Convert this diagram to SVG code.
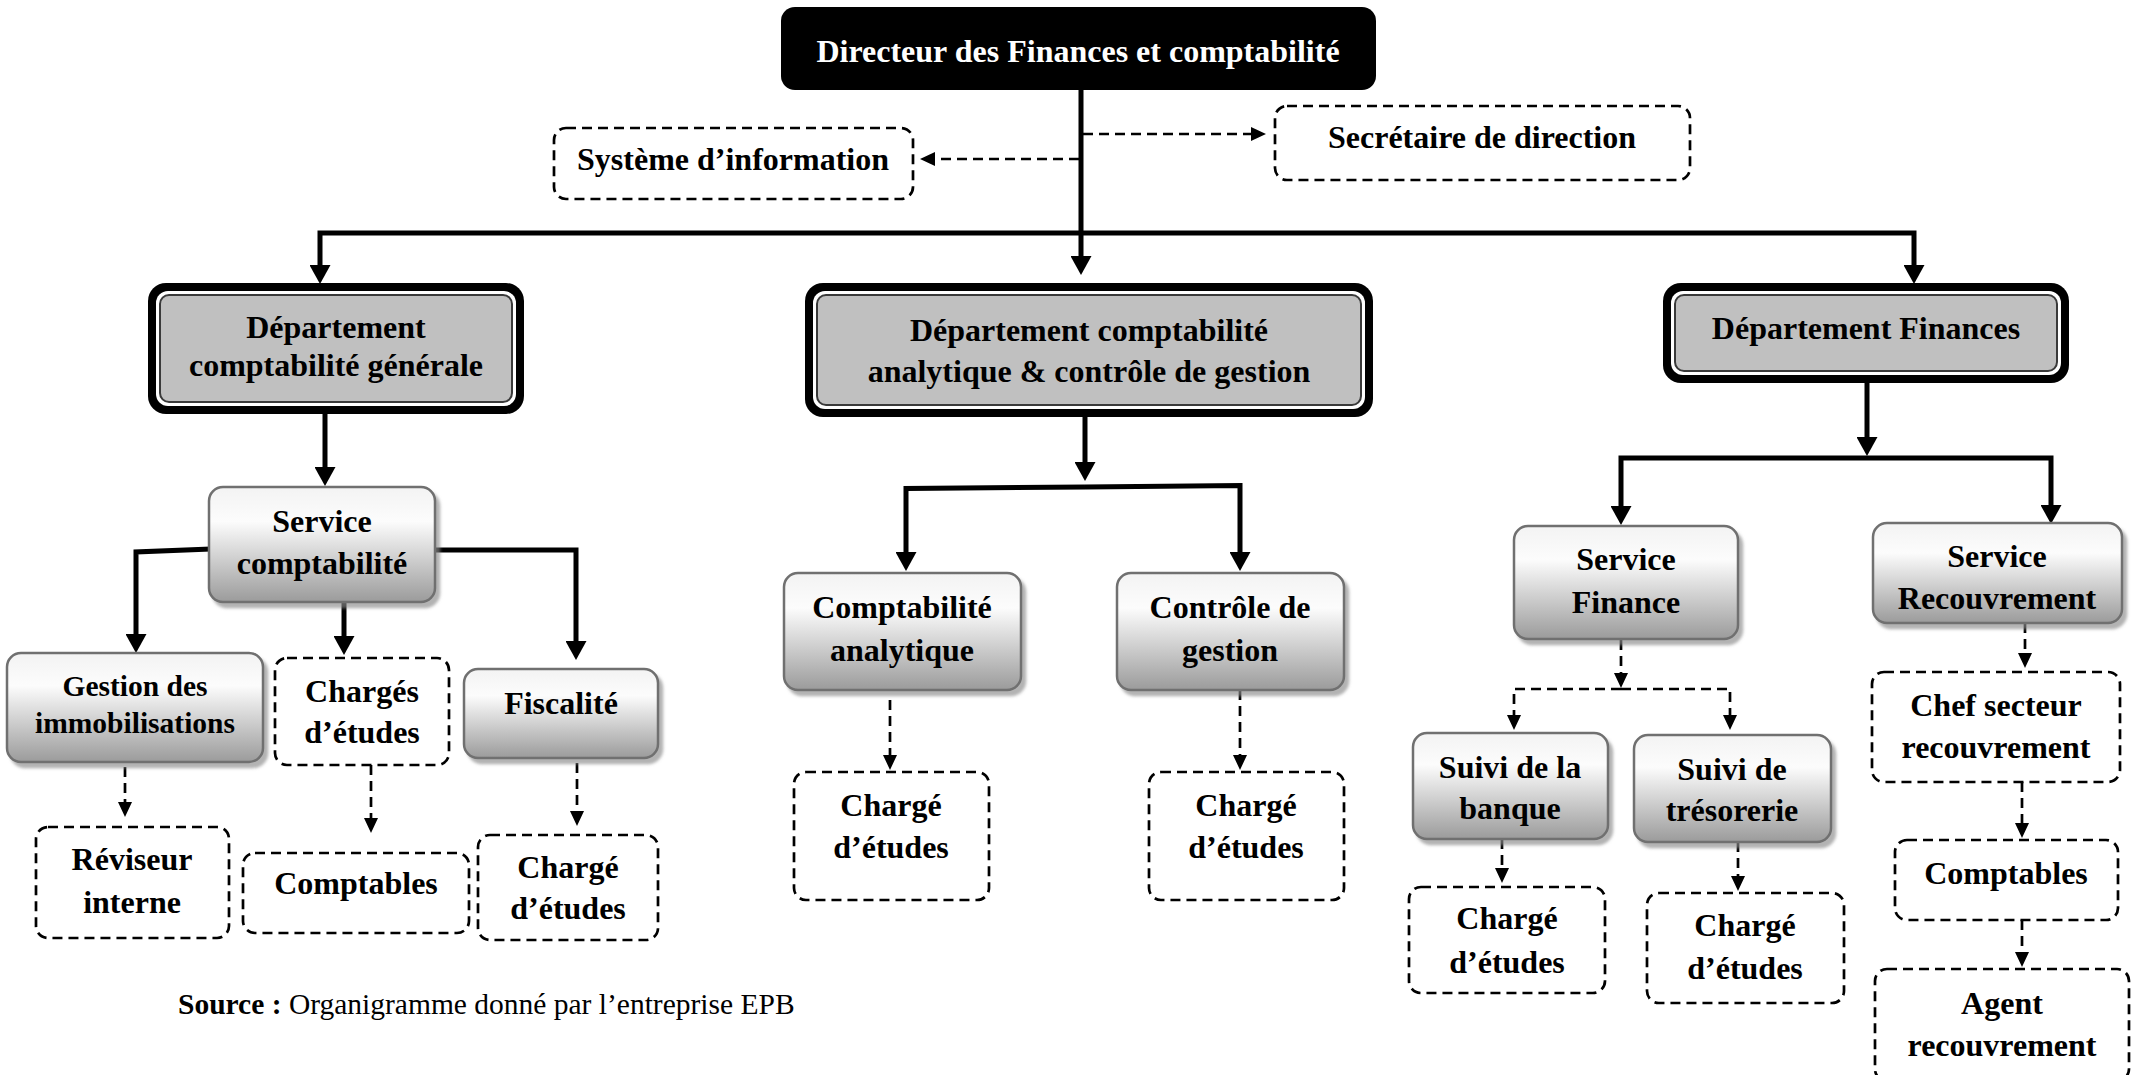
<svg xmlns="http://www.w3.org/2000/svg" width="2138" height="1075" viewBox="0 0 2138 1075">
  <defs>
    <linearGradient id="gradSvc" x1="0" y1="0" x2="0" y2="1">
      <stop offset="0" stop-color="#f3f3f3"/>
      <stop offset="0.3" stop-color="#fcfcfc"/>
      <stop offset="1" stop-color="#9b9b9b"/>
    </linearGradient>
    <filter id="shadow" x="-10%" y="-10%" width="125%" height="130%">
      <feDropShadow dx="4" dy="5" stdDeviation="1.5" flood-color="#8a8a8a" flood-opacity="0.65"/>
    </filter>
    <marker id="arrowThick" markerUnits="userSpaceOnUse" markerWidth="19" markerHeight="21" refX="8" refY="10.5" orient="auto">
      <path d="M0,0 L19,10.5 L0,21 z" fill="#000"/>
    </marker>
    <marker id="arrowDash" markerUnits="userSpaceOnUse" markerWidth="15" markerHeight="14" refX="7" refY="7" orient="auto">
      <path d="M0,0 L15,7 L0,14 z" fill="#000"/>
    </marker>
    <style>
      text { font-family: "Liberation Serif", "Times New Roman", serif; font-weight: bold; font-size: 32px; fill: #000; text-anchor: middle; }
      .white { fill: #fff; }
      .small { font-size: 29.5px; }
      .dashbox { fill: #fff; stroke: #000; stroke-width: 2.7; stroke-dasharray: 10 6; }
      .svc { fill: url(#gradSvc); stroke: #6f6f6f; stroke-width: 2.5; filter: url(#shadow); }
      .ring { fill: #000; }
      .ringGap { fill: #fff; }
      .ringIn { fill: #c0c0c0; stroke: #3a3a3a; stroke-width: 2; }
      .thick { fill: none; stroke: #000; stroke-width: 5; stroke-linejoin: miter; marker-end: url(#arrowThick); }
      .thin { fill: none; stroke: #000; stroke-width: 2.7; stroke-dasharray: 10 6; marker-end: url(#arrowDash); }
      .source { font-weight: normal; text-anchor: start; font-size: 29.5px; }
    </style>
  </defs>

  <rect width="2138" height="1075" fill="#fff"/>

  <!-- connectors -->
  <g id="connectors">
    <!-- director to departments -->
    <path class="thick" d="M1081,90 V264"/>
    <path class="thick" d="M1081,233 H320 V273"/>
    <path class="thick" d="M1081,233 H1914 V273"/>
    <!-- director to staff -->
    <path class="thin" d="M1083,134 H1258"/>
    <path class="thin" d="M1079,159 H928"/>
    <!-- comptabilité générale branch -->
    <path class="thick" d="M325,414 V475"/>
    <path class="thick" d="M211,549 L136,552 V642"/>
    <path class="thick" d="M344,602 V644"/>
    <path class="thick" d="M433,550 H576 V649"/>
    <path class="thin" d="M125,767 V809"/>
    <path class="thin" d="M371,765 V825"/>
    <path class="thin" d="M577,763 V818"/>
    <!-- comptabilité analytique branch -->
    <path class="thick" d="M1085,417 V470"/>
    <path class="thick" d="M1085,487 L906,488.5 V560"/>
    <path class="thick" d="M1085,487 L1240,485.5 V560"/>
    <path class="thin" d="M890,700 V762"/>
    <path class="thin" d="M1240,690 V762"/>
    <!-- finances branch -->
    <path class="thick" d="M1867,383 V445"/>
    <path class="thick" d="M1867,458 H1621 V514"/>
    <path class="thick" d="M1867,458 H2051 V513"/>
    <path class="thin" d="M1621,640 V680"/>
    <path class="thin" d="M1621,689 H1514 V722"/>
    <path class="thin" d="M1621,689 H1730 V722"/>
    <path class="thin" d="M1502,839 V875"/>
    <path class="thin" d="M1738,842 V883"/>
    <path class="thin" d="M2025,623 V660"/>
    <path class="thin" d="M2022,782 V830"/>
    <path class="thin" d="M2022,920 V959"/>
  </g>

  <!-- top level -->
  <g id="directeur">
    <rect x="781" y="7" width="595" height="83" rx="14" fill="#000"/>
    <text class="white" x="1078" y="62">Directeur des Finances et comptabilité</text>
  </g>
  <g id="systeme-information">
    <rect class="dashbox" x="554" y="128" width="359" height="71" rx="12"/>
    <text x="733" y="170">Système d’information</text>
  </g>
  <g id="secretaire">
    <rect class="dashbox" x="1275" y="106" width="415" height="74" rx="12"/>
    <text x="1482" y="148">Secrétaire de direction</text>
  </g>

  <!-- departments -->
  <g id="dept-comptabilite-generale">
    <rect class="ring" x="148" y="283" width="376" height="131" rx="18"/>
    <rect class="ringGap" x="156" y="291" width="360" height="115" rx="12"/>
    <rect class="ringIn" x="160" y="295" width="352" height="107" rx="9"/>
    <text x="336" y="338">Département</text>
    <text x="336" y="376">comptabilité générale</text>
  </g>
  <g id="dept-comptabilite-analytique">
    <rect class="ring" x="805" y="283" width="568" height="134" rx="18"/>
    <rect class="ringGap" x="813" y="291" width="552" height="118" rx="12"/>
    <rect class="ringIn" x="817" y="295" width="544" height="110" rx="9"/>
    <text x="1089" y="341">Département comptabilité</text>
    <text x="1089" y="382">analytique &amp; contrôle de gestion</text>
  </g>
  <g id="dept-finances">
    <rect class="ring" x="1663" y="283" width="406" height="100" rx="18"/>
    <rect class="ringGap" x="1671" y="291" width="390" height="84" rx="12"/>
    <rect class="ringIn" x="1675" y="295" width="382" height="76" rx="9"/>
    <text x="1866" y="339">Département Finances</text>
  </g>

  <!-- comptabilité générale -->
  <g id="service-comptabilite">
    <rect class="svc" x="209" y="487" width="226" height="115" rx="14"/>
    <text x="322" y="532">Service</text>
    <text x="322" y="574">comptabilité</text>
  </g>
  <g id="gestion-immobilisations">
    <rect class="svc" x="7" y="653" width="256" height="109" rx="14"/>
    <text class="small" x="135" y="696">Gestion des</text>
    <text class="small" x="135" y="733">immobilisations</text>
  </g>
  <g id="charges-etudes">
    <rect class="dashbox" x="275" y="658" width="174" height="107" rx="12"/>
    <text x="362" y="702">Chargés</text>
    <text x="362" y="743">d’études</text>
  </g>
  <g id="fiscalite">
    <rect class="svc" x="464" y="669" width="194" height="89" rx="14"/>
    <text x="561" y="714">Fiscalité</text>
  </g>
  <g id="reviseur-interne">
    <rect class="dashbox" x="36" y="827" width="193" height="111" rx="12"/>
    <text x="132" y="870">Réviseur</text>
    <text x="132" y="913">interne</text>
  </g>
  <g id="comptables-generale">
    <rect class="dashbox" x="243" y="853" width="226" height="80" rx="12"/>
    <text x="356" y="894">Comptables</text>
  </g>
  <g id="charge-fiscalite">
    <rect class="dashbox" x="478" y="835" width="180" height="105" rx="12"/>
    <text x="568" y="878">Chargé</text>
    <text x="568" y="919">d’études</text>
  </g>

  <!-- comptabilité analytique & contrôle de gestion -->
  <g id="comptabilite-analytique">
    <rect class="svc" x="784" y="573" width="237" height="117" rx="14"/>
    <text x="902" y="618">Comptabilité</text>
    <text x="902" y="661">analytique</text>
  </g>
  <g id="controle-gestion">
    <rect class="svc" x="1117" y="573" width="227" height="117" rx="14"/>
    <text x="1230" y="618">Contrôle de</text>
    <text x="1230" y="661">gestion</text>
  </g>
  <g id="charge-analytique">
    <rect class="dashbox" x="794" y="772" width="195" height="128" rx="12"/>
    <text x="891" y="816">Chargé</text>
    <text x="891" y="858">d’études</text>
  </g>
  <g id="charge-controle">
    <rect class="dashbox" x="1149" y="772" width="195" height="128" rx="12"/>
    <text x="1246" y="816">Chargé</text>
    <text x="1246" y="858">d’études</text>
  </g>

  <!-- finances -->
  <g id="service-finance">
    <rect class="svc" x="1514" y="526" width="224" height="113" rx="14"/>
    <text x="1626" y="570">Service</text>
    <text x="1626" y="613">Finance</text>
  </g>
  <g id="service-recouvrement">
    <rect class="svc" x="1873" y="523" width="249" height="100" rx="14"/>
    <text x="1997" y="567">Service</text>
    <text x="1997" y="609">Recouvrement</text>
  </g>
  <g id="suivi-banque">
    <rect class="svc" x="1413" y="733" width="195" height="106" rx="14"/>
    <text x="1510" y="778">Suivi de la</text>
    <text x="1510" y="819">banque</text>
  </g>
  <g id="suivi-tresorerie">
    <rect class="svc" x="1634" y="735" width="197" height="107" rx="14"/>
    <text x="1732" y="780">Suivi de</text>
    <text x="1732" y="821">trésorerie</text>
  </g>
  <g id="charge-banque">
    <rect class="dashbox" x="1409" y="887" width="196" height="106" rx="12"/>
    <text x="1507" y="929">Chargé</text>
    <text x="1507" y="973">d’études</text>
  </g>
  <g id="charge-tresorerie">
    <rect class="dashbox" x="1647" y="893" width="197" height="110" rx="12"/>
    <text x="1745" y="936">Chargé</text>
    <text x="1745" y="979">d’études</text>
  </g>
  <g id="chef-secteur">
    <rect class="dashbox" x="1872" y="672" width="248" height="110" rx="12"/>
    <text x="1996" y="716">Chef secteur</text>
    <text x="1996" y="758">recouvrement</text>
  </g>
  <g id="comptables-recouvrement">
    <rect class="dashbox" x="1895" y="840" width="223" height="80" rx="12"/>
    <text x="2006" y="884">Comptables</text>
  </g>
  <g id="agent-recouvrement">
    <rect class="dashbox" x="1875" y="969" width="254" height="112" rx="12"/>
    <text x="2002" y="1014">Agent</text>
    <text x="2002" y="1056">recouvrement</text>
  </g>

  <!-- caption -->
  <text class="source" x="178" y="1014"><tspan font-weight="bold">Source :</tspan> Organigramme donné par l’entreprise EPB</text>
</svg>
